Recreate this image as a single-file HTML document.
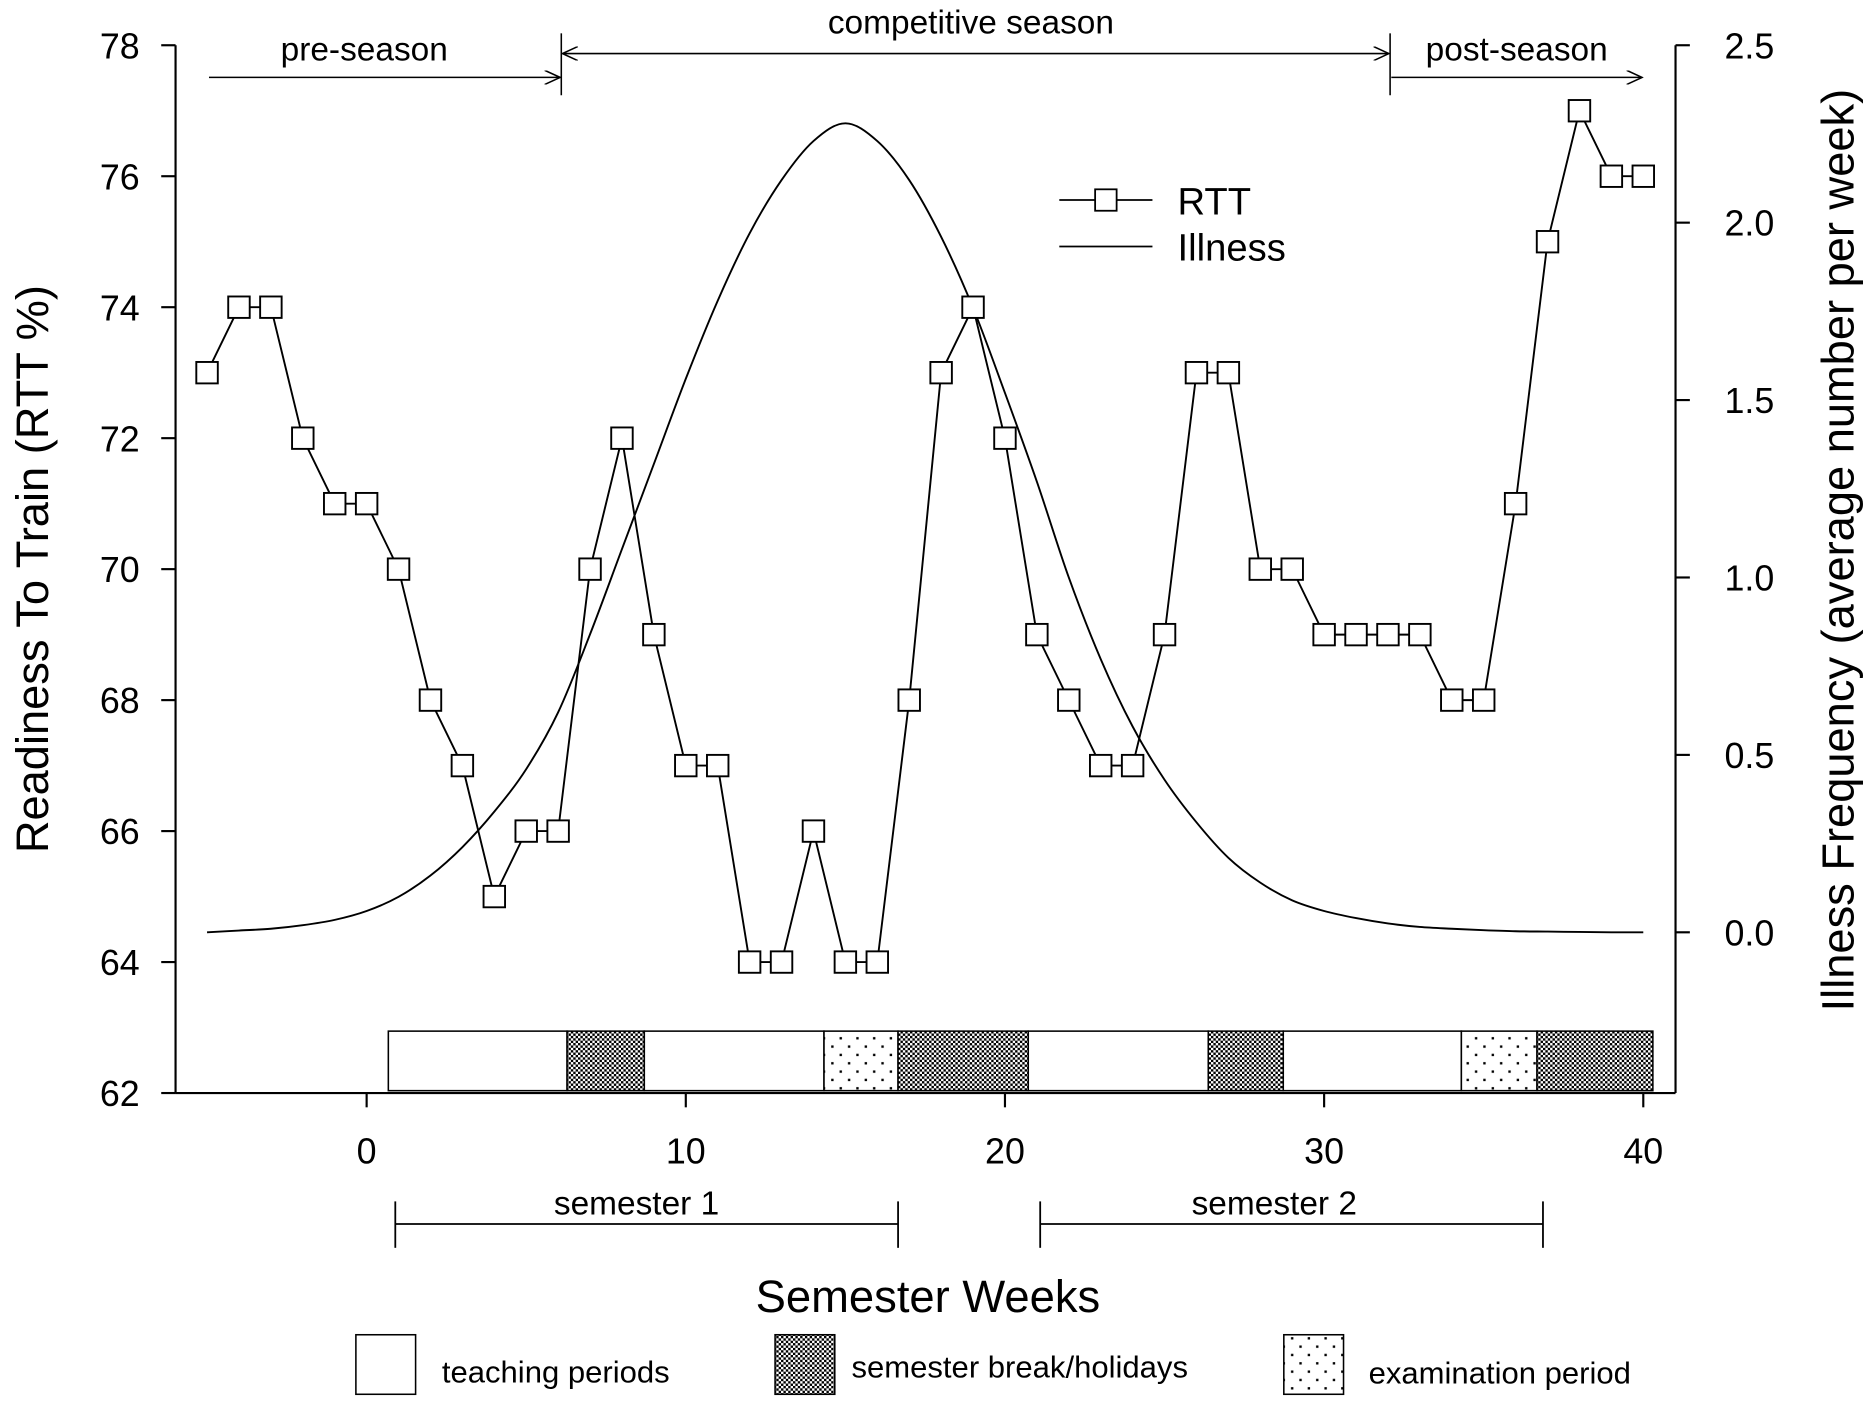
<!DOCTYPE html>
<html><head><meta charset="utf-8"><style>
html,body{margin:0;padding:0;background:#fff;}
svg{display:block;font-family:"Liberation Sans",Arial,sans-serif;}
</style></head><body>
<svg id="chart" width="1869" height="1405" viewBox="0 0 1565 1180" preserveAspectRatio="none" xmlns="http://www.w3.org/2000/svg">
<defs>
<pattern id="hatch" width="4" height="4" patternUnits="userSpaceOnUse">
<rect width="4" height="4" fill="#fff"/><rect width="2" height="2" fill="#000"/><rect x="2" y="2" width="2" height="2" fill="#000"/>
</pattern>
<pattern id="dots" width="14" height="14" patternUnits="userSpaceOnUse">
<rect width="14" height="14" fill="#fff"/><rect x="3" y="3" width="2" height="2" fill="#000"/><rect x="10" y="10" width="2" height="2" fill="#000"/>
</pattern>
<marker id="arr" markerWidth="14" markerHeight="12" refX="13" refY="6" orient="auto-start-reverse" markerUnits="userSpaceOnUse">
<path d="M0,0 L13,6 L0,12" fill="none" stroke="#000" stroke-width="1.3"/>
</marker>
</defs>
<g id="axes"></g>
<g id="marks"></g>
<g id="annot">
<line x1="175" y1="65" x2="469" y2="65" stroke="#000" stroke-width="1.3" marker-end="url(#arr)"/>
<text x="305" y="51" font-size="28" text-anchor="middle">pre-season</text>
<line x1="471" y1="45" x2="1163" y2="45" stroke="#000" stroke-width="1.3" marker-start="url(#arr)" marker-end="url(#arr)"/>
<line x1="470" y1="28" x2="470" y2="80" stroke="#000" stroke-width="1.3"/>
<line x1="1164" y1="28" x2="1164" y2="80" stroke="#000" stroke-width="1.3"/>
<text x="813" y="28" font-size="28" text-anchor="middle">competitive season</text>
<line x1="1165" y1="65" x2="1375" y2="65" stroke="#000" stroke-width="1.3" marker-end="url(#arr)"/>
<text x="1270" y="51" font-size="28" text-anchor="middle">post-season</text>
<g>
<line x1="331" y1="1028" x2="752" y2="1028" stroke="#000" stroke-width="1.5"/>
<line x1="331" y1="1009" x2="331" y2="1048" stroke="#000" stroke-width="1.5"/>
<line x1="752" y1="1009" x2="752" y2="1048" stroke="#000" stroke-width="1.5"/>
<text x="533" y="1020" font-size="28" text-anchor="middle">semester 1</text>
</g>
<g>
<line x1="871" y1="1028" x2="1292" y2="1028" stroke="#000" stroke-width="1.5"/>
<line x1="871" y1="1009" x2="871" y2="1048" stroke="#000" stroke-width="1.5"/>
<line x1="1292" y1="1009" x2="1292" y2="1048" stroke="#000" stroke-width="1.5"/>
<text x="1067" y="1020" font-size="28" text-anchor="middle">semester 2</text>
</g>
<text x="777" y="1102" font-size="38" text-anchor="middle">Semester Weeks</text>
<text transform="translate(40,478) rotate(-90)" font-size="38" text-anchor="middle">Readiness To Train (RTT %)</text>
<text transform="translate(1552,462) rotate(-90)" font-size="38" text-anchor="middle">Illness Frequency (average number per week)</text>
<g>
<line x1="887" y1="168" x2="965" y2="168" stroke="#000" stroke-width="1.5"/>
<rect x="917" y="159" width="18" height="18" fill="#fff" stroke="#000" stroke-width="1.5"/>
<text x="986" y="180" font-size="32">RTT</text>
<line x1="887" y1="207" x2="965" y2="207" stroke="#000" stroke-width="1.5"/>
<text x="986" y="219" font-size="32">Illness</text>
</g>
<g>
<rect x="298" y="1121" width="50" height="50" fill="#fff" stroke="#000" stroke-width="1.3"/>
<text x="370" y="1161" font-size="26">teaching periods</text>
<rect x="649" y="1121" width="50" height="50" fill="url(#hatch)" stroke="#000" stroke-width="1.3"/>
<text x="713" y="1157" font-size="26">semester break/holidays</text>
<rect x="1075" y="1121" width="50" height="50" fill="url(#dots)" stroke="#000" stroke-width="1.3"/>
<text x="1146" y="1162" font-size="26">examination period</text>
</g>
</g>
</svg>
<script>
const weeks = [-5,-4,-3,-2,-1,0,1,2,3,4,5,6,7,8,9,10,11,12,13,14,15,16,17,18,19,20,21,22,23,24,25,26,27,28,29,30,31,32,33,34,35,36,37,38,39,40];
const rtt = [73,74,74,72,71,71,70,68,67,65,66,66,70,72,69,67,67,64,64,66,64,64,68,73,74,72,69,68,67,67,69,73,73,70,70,69,69,69,69,68,68,71,75,77,76,76];
const illness = [0,0.005,0.01,0.02,0.035,0.06,0.1,0.16,0.24,0.34,0.46,0.62,0.84,1.08,1.32,1.56,1.78,1.97,2.12,2.23,2.28,2.23,2.12,1.96,1.76,1.52,1.27,1.0,0.77,0.58,0.43,0.31,0.21,0.14,0.09,0.06,0.04,0.025,0.015,0.01,0.006,0.003,0.002,0.001,0,0];
const xTicks = [0,10,20,30,40];
const yLeftTicks = [62,64,66,68,70,72,74,76,78];
const yRightTicks = ["0.0","0.5","1.0","1.5","2.0","2.5"];
const periodTypes = ["teach","break","teach","exam","break","teach","break","teach","exam","break"];
const periodStarts = [0.68,6.28,8.7,14.33,16.65,20.73,26.37,28.72,34.3,36.67];
const periodEnds = [6.28,8.7,14.33,16.65,20.73,26.37,28.72,34.3,36.67,40.3];

const NS="http://www.w3.org/2000/svg";
const X=w=>307+(w-0)*(1376-307)/40;
const YL=v=>918-(v-62)*(918-38)/16;
const YR=v=>783-v*(783-38)/2.5;
function mk(tag,attrs,parent){const e=document.createElementNS(NS,tag);for(const k in attrs)e.setAttribute(k,attrs[k]);parent.appendChild(e);return e;}
const axes=document.getElementById('axes'), marks=document.getElementById('marks');
let a=mk('line',{x1:147,y1:38,x2:147,y2:918,stroke:'#000','stroke-width':1.8},axes);


a=mk('line',{x1:147,y1:918,x2:1403,y2:918,stroke:'#000','stroke-width':1.8},axes);


a=mk('line',{x1:1403,y1:38,x2:1403,y2:918,stroke:'#000','stroke-width':1.8},axes);


yLeftTicks.forEach(v=>{const y=YL(v);mk('line',{x1:135,y1:y,x2:147,y2:y,stroke:'#000','stroke-width':1.8},axes);
 const t=mk('text',{x:117,y:y+11,'font-size':30,'text-anchor':'end'},axes);t.textContent=v;
 
 });
yRightTicks.forEach(s=>{const y=YR(parseFloat(s));mk('line',{x1:1403,y1:y,x2:1415,y2:y,stroke:'#000','stroke-width':1.8},axes);
 const t=mk('text',{x:1444,y:y+11,'font-size':30},axes);t.textContent=s;
 
 });
xTicks.forEach(v=>{const x=X(v);mk('line',{x1:x,y1:918,x2:x,y2:930,stroke:'#000','stroke-width':1.8},axes);
 const t=mk('text',{x:x,y:977,'font-size':30,'text-anchor':'middle'},axes);t.textContent=v;
 
 });
periodTypes.forEach((p,i)=>{const x0=X(periodStarts[i]),x1=X(periodEnds[i]);
 const r=mk('rect',{x:x0,y:866,width:x1-x0,height:50,fill:p==='teach'?'#fff':p==='break'?'url(#hatch)':'url(#dots)',stroke:'#000','stroke-width':1.3},marks);
 
 });
const pts=weeks.map((w,i)=>[X(w),YR(illness[i])]);
let d='M'+pts[0][0]+','+pts[0][1];
for(let i=0;i<pts.length-1;i++){const p0=pts[i-1]||pts[i],p1=pts[i],p2=pts[i+1],p3=pts[i+2]||p2;
 d+=` C${p1[0]+(p2[0]-p0[0])/6},${p1[1]+(p2[1]-p0[1])/6} ${p2[0]-(p3[0]-p1[0])/6},${p2[1]-(p3[1]-p1[1])/6} ${p2[0]},${p2[1]}`;}
const ill=mk('path',{d:d,fill:'none',stroke:'#000','stroke-width':1.6},marks);


const rl=mk('polyline',{points:weeks.map((w,i)=>X(w)+','+YL(rtt[i])).join(' '),fill:'none',stroke:'#000','stroke-width':1.6},marks);


weeks.forEach((w,i)=>{const r=mk('rect',{x:X(w)-9,y:YL(rtt[i])-9,width:18,height:18,fill:'#fff',stroke:'#000','stroke-width':1.6},marks);
 
 });
</script>
</body></html>
